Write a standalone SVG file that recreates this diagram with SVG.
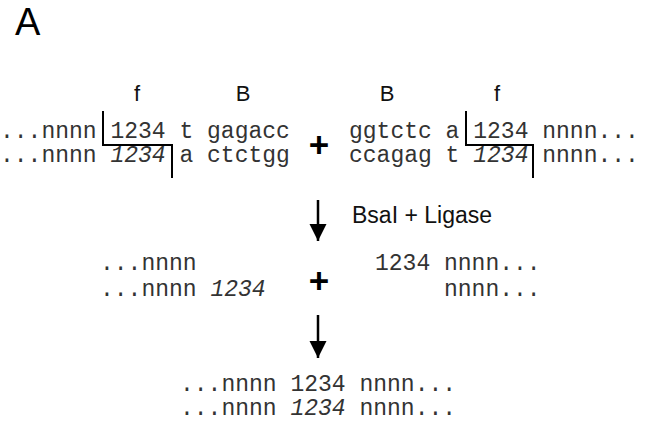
<svg xmlns="http://www.w3.org/2000/svg" width="658" height="426" viewBox="0 0 658 426">
<style>
.seq{font-family:"Liberation Mono","Courier New",monospace;font-size:23px;fill:#333;white-space:pre}
.it{font-style:italic}
.lbl{font-family:"Liberation Sans",Arial,sans-serif;font-size:22px;fill:#111}
.plus{font-family:"Liberation Sans",Arial,sans-serif;font-weight:bold;font-size:35px;fill:#000;text-anchor:middle}
.cut{fill:none;stroke:#000;stroke-width:2}
.arr{stroke:#000;stroke-width:2.5}
</style>
<defs>
<marker id="ah" viewBox="0 0 10 10" refX="10" refY="5" markerWidth="7" markerHeight="7" markerUnits="strokeWidth" orient="auto">
<path d="M0,0 L10,5 L0,10 z" fill="#000"/>
</marker>
</defs>
<rect width="658" height="426" fill="#fff"/>
<text x="15" y="35" style="font-family:'Liberation Sans',Arial,sans-serif;font-size:38px;fill:#000">A</text>

<g id="left-fragment">
<text class="lbl" x="137" y="101" text-anchor="middle">f</text>
<text class="lbl" x="243" y="101" text-anchor="middle">B</text>
<text class="seq" x="0" y="138" xml:space="preserve">...nnnn 1234 t gagacc</text>
<text class="seq" x="0" y="162" xml:space="preserve">...nnnn <tspan class="it">1234</tspan> a ctctgg</text>
<path class="cut" d="M103,111 V145 H172 V178"/>
</g>

<g id="plus1"><text class="plus" x="319" y="157">+</text></g>

<g id="right-fragment">
<text class="lbl" x="387" y="101" text-anchor="middle">B</text>
<text class="lbl" x="497" y="101" text-anchor="middle">f</text>
<text class="seq" x="349" y="138" xml:space="preserve">ggtctc a 1234 nnnn...</text>
<text class="seq" x="349" y="162" xml:space="preserve">ccagag t <tspan class="it">1234</tspan> nnnn...</text>
<path class="cut" d="M466,111 V145 H533 V178"/>
</g>

<g id="connectors">
<line class="arr" x1="318" y1="200" x2="318" y2="241" marker-end="url(#ah)"/>
<line class="arr" x1="318" y1="315" x2="318" y2="358" marker-end="url(#ah)"/>
</g>
<text class="lbl" x="352" y="223" style="font-size:23px">BsaI + Ligase</text>

<g id="cut-left">
<text class="seq" x="100" y="270" xml:space="preserve">...nnnn</text>
<text class="seq" x="100" y="296" xml:space="preserve">...nnnn <tspan class="it">1234</tspan></text>
</g>
<g id="plus2"><text class="plus" x="319" y="293">+</text></g>
<g id="cut-right">
<text class="seq" x="375" y="270" xml:space="preserve">1234 nnnn...</text>
<text class="seq" x="375" y="296" xml:space="preserve">     nnnn...</text>
</g>

<g id="product">
<text class="seq" x="180" y="391" xml:space="preserve">...nnnn 1234 nnnn...</text>
<text class="seq" x="180" y="415" xml:space="preserve">...nnnn <tspan class="it">1234</tspan> nnnn...</text>
</g>
</svg>
